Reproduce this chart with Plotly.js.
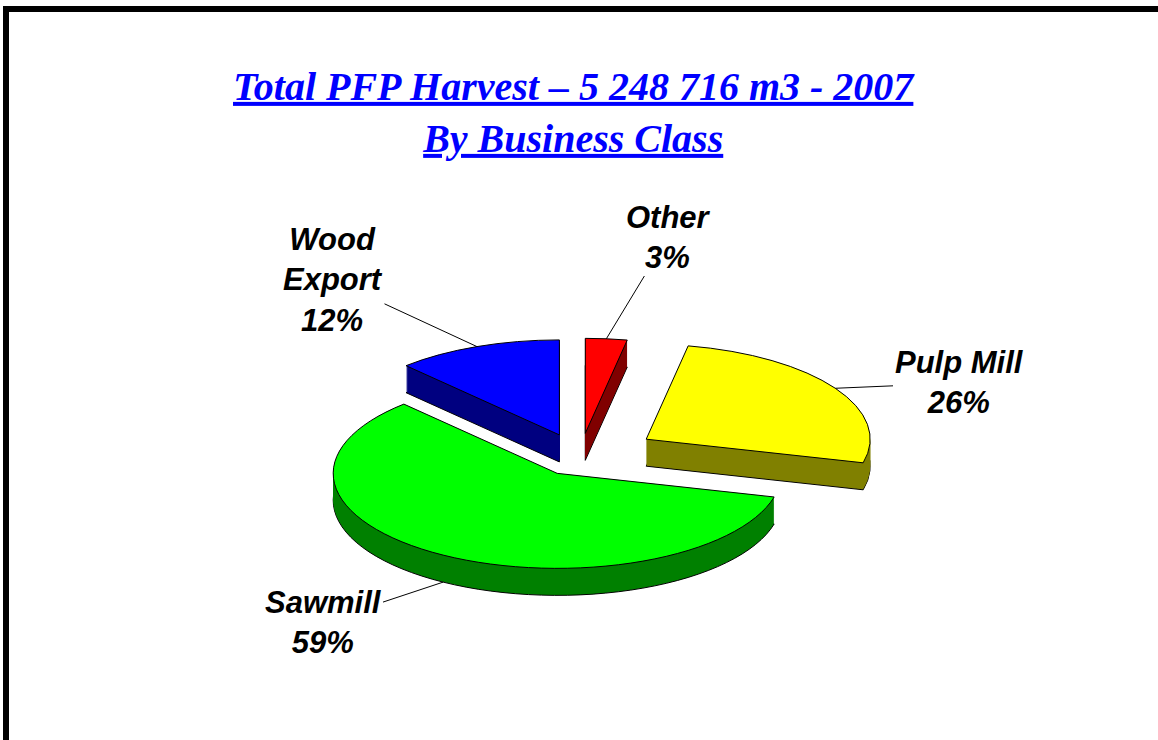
<!DOCTYPE html>
<html>
<head>
<meta charset="utf-8">
<script src="https://cdn.plot.ly/plotly-3.0.1.min.js"></script>
<style>
  html, body { margin: 0; padding: 0; background: #fff; overflow: hidden; }
  #chart { position: absolute; left: 0; top: 0; width: 1158px; height: 740px; }
  #frame { position: absolute; left: 3px; top: 6px; width: 2000px; height: 2000px;
           border: 6px solid #000; pointer-events: none; box-sizing: border-box; }
</style>
</head>
<body>
<div id="chart"></div>
<div id="frame"></div>
<script>
// ---- data ----
const categories = ['Other', 'Pulp Mill', 'Sawmill', 'Wood Export'];
const labelText = ['Other', 'Pulp Mill', 'Sawmill', 'Wood<br>Export'];
const shares = [3, 26, 59, 12];
const topColors = ['#FF0000', '#FFFF00', '#00FF00', '#0000FF'];
const sideColors = ['#800000', '#808000', '#008000', '#000080'];
const titleLine1 = 'Total PFP Harvest – 5 248 716 m3 - 2007';
const titleLine2 = 'By Business Class';

// ---- geometry / style (not data) ----
const pulls = [0.25, 0.35, 0.2, 0.25];
const W = 1158, H = 740;
const center = { x: 580, y: 457 };   // centre of the tilted pie top
const rx = 224, ry = 95, depth = 27;  // ellipse radii and thickness (px)
const baseCy = 370;                   // where plotly lays the flat pie before tilting
const labelPos = [[668, 237], [959, 383], [323, 622], [333, 280]]; // label centres (px)
const labelOnBottom = [false, false, true, false];

const maxPull = Math.max(...pulls);
const half = rx * (1 + maxPull) + 2;
const domain = {
  x: [(center.x - half) / W, (center.x + half) / W],
  y: [(H - baseCy - half) / H, (H - baseCy + half) / H]
};

function pieTrace(colors, lineW, showText) {
  return {
    type: 'pie',
    labels: categories,
    values: shares,
    text: labelText,
    sort: false,
    direction: 'clockwise',
    rotation: 0,
    pull: pulls,
    domain: domain,
    marker: { colors: colors, line: { color: '#000', width: lineW } },
    textinfo: 'none',
    hoverinfo: showText ? 'label+percent' : 'skip',
    showlegend: false
  };
}

// extruded side layers (bottom first), then the top face
const layerOffsets = [];
for (let d = depth; d >= 1; d -= 1) layerOffsets.push(d);
const traces = layerOffsets.map((d, i) => pieTrace(sideColors, i === 0 ? 1 : 0, false));
traces.push(pieTrace(topColors, 1, true));
layerOffsets.push(0);

// labels with leader lines, anchored at each slice's mid-angle
const total = shares.reduce((a, b) => a + b, 0);
let cum = 0;
const annotations = shares.map((v, i) => {
  const mid = (cum + v / 2) / total * 2 * Math.PI;
  cum += v;
  const f = 1 + pulls[i];
  const axp = center.x + f * rx * Math.sin(mid);
  const ayp = center.y - f * ry * Math.cos(mid) + (labelOnBottom[i] ? depth : 0);
  return {
    xref: 'paper', yref: 'paper',
    x: axp / W, y: 1 - ayp / H,
    ax: labelPos[i][0] - axp, ay: labelPos[i][1] - ayp,
    text: labelText[i] + '<br>' + Math.round(v / total * 100) + '%',
    showarrow: true, arrowhead: 0, arrowwidth: 1, arrowcolor: '#000', standoff: 0,
    align: 'center',
    font: { family: 'Liberation Sans, Arial, sans-serif', size: 31, color: '#000', weight: 'bold', style: 'italic' }
  };
});

const layout = {
  width: W, height: H,
  margin: { l: 0, r: 0, t: 0, b: 0 },
  paper_bgcolor: '#fff',
  showlegend: false,
  annotations: annotations,
  title: {
    text: '<u>' + titleLine1 + '</u><br><u>' + titleLine2 + '</u>',
    font: { family: 'Liberation Serif, Times New Roman, serif', size: 40, color: '#0000FF', weight: 'bold', style: 'italic' },
    x: 0.495, xanchor: 'center',
    y: 0.865, yanchor: 'middle'
  }
};

const gd = document.getElementById('chart');
Plotly.newPlot(gd, traces, layout, { displayModeBar: false, staticPlot: true }).then(() => {
  // tilt the flat pies into a squashed, stacked 3-D look
  const groups = gd.querySelectorAll('.pielayer g.trace');
  groups.forEach((g, i) => {
    const cd0 = gd.calcdata[i][0];
    const sx = rx / cd0.r, sy = ry / cd0.r;
    const tf = 'translate(' + center.x + ',' + (center.y + layerOffsets[i]) + ') scale(' + sx + ',' + sy +
               ') translate(' + (-cd0.cx) + ',' + (-cd0.cy) + ')';
    g.querySelectorAll('path.surface').forEach(p => {
      p.setAttribute('transform', tf);
      p.style.vectorEffect = 'non-scaling-stroke';
    });
  });
});
</script>
</body>
</html>
